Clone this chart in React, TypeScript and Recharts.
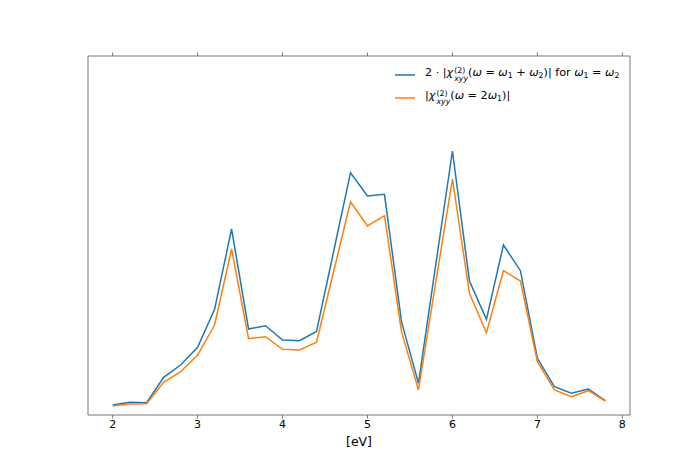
import React from "react";
import { LineChart, Line, XAxis, YAxis, Legend, Label } from "recharts";

// photon energy grid (eV)
const energies = [
  2.0, 2.2, 2.4, 2.6, 2.8, 3.0, 3.2, 3.4, 3.6, 3.8, 4.0, 4.2, 4.4, 4.6, 4.8,
  5.0, 5.2, 5.4, 5.6, 5.8, 6.0, 6.2, 6.4, 6.6, 6.8, 7.0, 7.2, 7.4, 7.6, 7.8,
];

// 2·|chi(w = w1 + w2)| for w1 = w2 (arb. units)
const sumFreq = [
  10, 12.7, 12.3, 37.7, 50, 67.7, 105.7, 186, 86, 89.3, 75, 74.3, 83.5, 163, 242.3,
  219, 220.7, 93.3, 31.7, 148.3, 264, 134, 95.7, 170, 144.3, 56.7, 28.3, 21.7, 26, 14.3,
];

// |chi(w = 2 w1)| (arb. units)
const shg = [
  9, 11, 11.3, 32.7, 43.3, 60, 90, 166, 76.3, 78.3, 65.7, 65, 72.7, 143, 213.3,
  189, 199.3, 83.3, 25, 131, 236, 121.7, 82.3, 144.3, 134, 53.3, 25, 18.3, 24.3, 14,
];

const xTicks = [2, 3, 4, 5, 6, 7, 8];

const BLUE = "#1f77b4";
const ORANGE = "#ff7f0e";
const SPINE = "#777";
const FONT = "'DejaVu Sans', sans-serif";

const rows = energies.map((e, i) => ({ ev: e, sum: sumFreq[i], shg: shg[i] }));

const I = ({ children }: { children: React.ReactNode }) => (
  <span style={{ fontStyle: "italic" }}>{children}</span>
);

const Sub = ({ children }: { children: React.ReactNode }) => (
  <span style={{ fontSize: "0.7em", verticalAlign: "-0.25em" }}>{children}</span>
);

// chi with stacked (2) superscript and xyy subscript
const Chi = () => (
  <>
    <I>χ</I>
    <span
      style={{
        display: "inline-flex",
        flexDirection: "column",
        fontSize: "0.7em",
        lineHeight: 1.0,
        verticalAlign: "0.45em",
        marginLeft: 1,
      }}
    >
      <span>(2)</span>
      <I>xyy</I>
    </span>
  </>
);

const legendItems = [
  {
    color: BLUE,
    text: (
      <>
        2 · |<Chi />(<I>ω</I> = <I>ω</I>
        <Sub>1</Sub> + <I>ω</I>
        <Sub>2</Sub>)| for <I>ω</I>
        <Sub>1</Sub> = <I>ω</I>
        <Sub>2</Sub>
      </>
    ),
  },
  {
    color: ORANGE,
    text: (
      <>
        |<Chi />(<I>ω</I> = 2<I>ω</I>
        <Sub>1</Sub>)|
      </>
    ),
  },
];

function MathLegend() {
  return (
    <div style={{ fontFamily: FONT, fontSize: 11.2, color: "#000" }}>
      {legendItems.map((it, i) => (
        <div
          key={i}
          style={{ height: 23, display: "flex", alignItems: "center", whiteSpace: "nowrap" }}
        >
          <svg width={20} height={4} style={{ marginRight: 10 }}>
            <line x1={0} y1={2} x2={20} y2={2} stroke={it.color} strokeWidth={1.5} />
          </svg>
          <span>{it.text}</span>
        </div>
      ))}
    </div>
  );
}

export default function App() {
  return (
    <div style={{ position: "absolute", left: 0, top: 0, width: 700, height: 467, background: "#fff" }}>
      <LineChart
        width={700}
        height={467}
        data={rows}
        margin={{ top: 55, right: 69, bottom: 22, left: 87 }}
      >
        <XAxis
          dataKey="ev"
          type="number"
          domain={[1.71, 8.09]}
          ticks={xTicks}
          allowDataOverflow
          height={30}
          stroke={SPINE}
          tickSize={3.5}
          tickMargin={2}
          tick={{ fill: "#000", fontSize: 11, fontFamily: FONT }}
        >
          <Label
            value="[eV]"
            position="insideBottom"
            offset={-1}
            style={{ fill: "#000", fontSize: 12.5, fontFamily: FONT }}
          />
        </XAxis>
        <XAxis
          xAxisId="top"
          dataKey="ev"
          type="number"
          orientation="top"
          domain={[1.71, 8.09]}
          ticks={xTicks}
          allowDataOverflow
          height={1}
          stroke={SPINE}
          tickSize={3.5}
          tickFormatter={() => ""}
        />
        <YAxis
          yAxisId="left"
          domain={[0, 359]}
          width={1}
          tick={false}
          tickLine={false}
          stroke={SPINE}
        />
        <YAxis
          yAxisId="right"
          orientation="right"
          domain={[0, 359]}
          width={1}
          tick={false}
          tickLine={false}
          stroke={SPINE}
        />
        <Legend
          verticalAlign="middle"
          align="center"
          layout="vertical"
          content={() => <MathLegend />}
          wrapperStyle={{ position: "absolute", top: 63, left: 395, width: 245 }}
        />
        <Line
          yAxisId="left"
          type="linear"
          dataKey="sum"
          stroke={BLUE}
          strokeWidth={1.5}
          dot={false}
          isAnimationActive={false}
        />
        <Line
          yAxisId="left"
          type="linear"
          dataKey="shg"
          stroke={ORANGE}
          strokeWidth={1.5}
          dot={false}
          isAnimationActive={false}
        />
        <Line
          xAxisId="top"
          yAxisId="right"
          dataKey="sum"
          stroke="none"
          dot={false}
          legendType="none"
          isAnimationActive={false}
        />
      </LineChart>
    </div>
  );
}
